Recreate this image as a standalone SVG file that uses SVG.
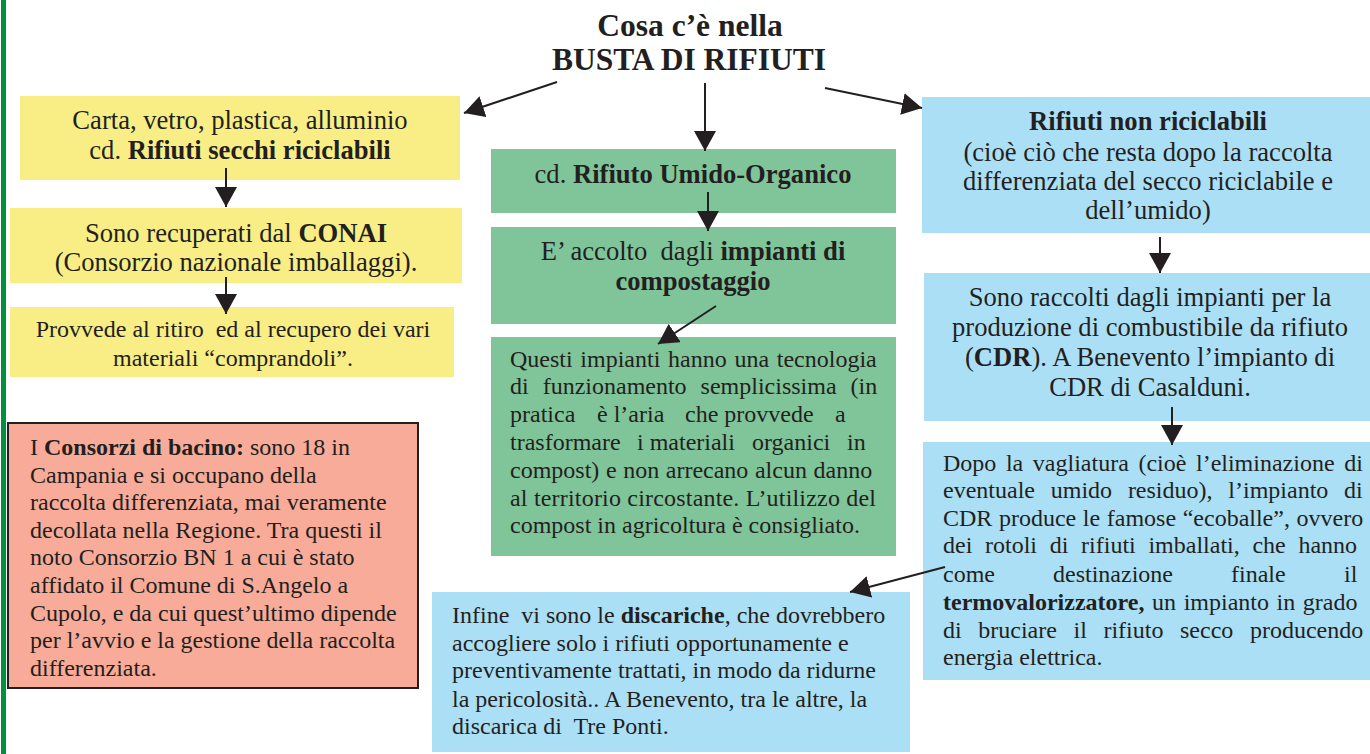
<svg xmlns="http://www.w3.org/2000/svg" width="1370" height="754" viewBox="0 0 1370 754">
<defs>
<marker id="ah" markerUnits="userSpaceOnUse" markerWidth="22" markerHeight="22" refX="20" refY="11" orient="auto" viewBox="0 0 22 22">
<path d="M0,0 L20,11 L0,22 Z" fill="#231f20"/>
</marker>
</defs>
<style>
text{font-family:"Liberation Serif","Times New Roman",serif;fill:#231f20;}
.t{font-size:31.5px;font-weight:bold;text-anchor:middle;}
.h{font-size:26.6px;text-anchor:middle;}
.p{font-size:24px;}
.pc{font-size:24px;text-anchor:middle;}
.b{font-weight:bold;}
.yel{fill:#f8ee85;}
.grn{fill:#80c49a;}
.blu{fill:#abdff6;}
.red{fill:#f8ab98;stroke:#231f20;stroke-width:2;}
.c{stroke:#231f20;stroke-width:2;fill:none;marker-end:url(#ah);}
</style>
<rect x="1" y="0" width="5" height="754" fill="#00913f"/>

<g id="title">
<text class="t" x="690" y="36">Cosa c’è nella</text>
<text class="t" x="689" y="70">BUSTA DI RIFIUTI</text>
</g>

<g id="secchi">
<rect class="yel" x="20" y="96" width="440" height="84"/>
<text class="h" x="240" y="129">Carta, vetro, plastica, alluminio</text>
<text class="h" x="240" y="159">cd. <tspan class="b">Rifiuti secchi riciclabili</tspan></text>
</g>

<g id="conai">
<rect class="yel" x="10" y="208" width="452" height="75"/>
<text class="h" x="236" y="242">Sono recuperati dal <tspan class="b">CONAI</tspan></text>
<text class="h" x="236" y="271">(Consorzio nazionale imballaggi).</text>
</g>

<g id="ritiro">
<rect class="yel" x="10" y="307" width="444" height="70"/>
<text class="pc" x="233" y="337" xml:space="preserve">Provvede al ritiro  ed al recupero dei vari</text>
<text class="pc" x="233" y="366">materiali “comprandoli”.</text>
</g>

<g id="consorzi">
<rect class="red" x="8" y="423" width="410" height="265"/>
<text class="p" x="30" y="455">I <tspan class="b">Consorzi di bacino:</tspan> sono 18 in</text>
<text class="p" x="30" y="483">Campania e si occupano della</text>
<text class="p" x="30" y="510">raccolta differenziata, mai veramente</text>
<text class="p" x="30" y="538">decollata nella Regione. Tra questi il</text>
<text class="p" x="30" y="565">noto Consorzio BN 1 a cui è stato</text>
<text class="p" x="30" y="593">affidato il Comune di S.Angelo a</text>
<text class="p" x="30" y="621">Cupolo, e da cui quest’ultimo dipende</text>
<text class="p" x="30" y="648">per l’avvio e la gestione della raccolta</text>
<text class="p" x="30" y="676">differenziata.</text>
</g>

<g id="umido">
<rect class="grn" x="491" y="149" width="405" height="64"/>
<text class="h" x="693" y="183">cd. <tspan class="b">Rifiuto Umido-Organico</tspan></text>
</g>

<g id="compostaggio">
<rect class="grn" x="491" y="227" width="405" height="97"/>
<text class="h" x="693" y="260" xml:space="preserve">E’ accolto  dagli <tspan class="b">impianti di</tspan></text>
<text class="h b" x="693" y="290">compostaggio</text>
</g>

<g id="tecnologia">
<rect class="grn" x="491" y="337" width="405" height="219"/>
<text class="p" x="510" y="367" word-spacing="1.7">Questi impianti hanno una tecnologia</text>
<text class="p" x="510" y="394" word-spacing="8">di funzionamento semplicissima (in</text>
<text class="p" y="422"><tspan x="510">pratica</tspan><tspan x="597">è l’aria</tspan><tspan x="685">che provvede</tspan><tspan x="835">a</tspan></text>
<text class="p" y="450"><tspan x="510">trasformare</tspan><tspan x="637">i materiali</tspan><tspan x="752">organici</tspan><tspan x="847">in</tspan></text>
<text class="p" x="510" y="478" word-spacing="0.6">compost) e non arrecano alcun danno</text>
<text class="p" x="510" y="506" textLength="366">al territorio circostante. L’utilizzo del</text>
<text class="p" x="510" y="533">compost in agricoltura è consigliato.</text>
</g>

<g id="nonriciclabili">
<rect class="blu" x="922" y="97" width="448" height="136"/>
<text class="h b" x="1148" y="130">Rifiuti non riciclabili</text>
<text class="h" x="1148" y="161">(cioè ciò che resta dopo la raccolta</text>
<text class="h" x="1148" y="190">differenziata del secco riciclabile e</text>
<text class="h" x="1148" y="219">dell’umido)</text>
</g>

<g id="cdr">
<rect class="blu" x="924" y="273" width="446" height="148"/>
<text class="h" x="1150" y="306">Sono raccolti dagli impianti per la</text>
<text class="h" x="1150" y="336">produzione di combustibile da rifiuto</text>
<text class="h" x="1150" y="366">(<tspan class="b">CDR</tspan>). A Benevento l’impianto di</text>
<text class="h" x="1150" y="396">CDR di Casalduni.</text>
</g>

<g id="ecoballe">
<rect class="blu" x="923" y="442" width="447" height="238"/>
<text class="p" x="943" y="471" word-spacing="3.6">Dopo la vagliatura (cioè l’eliminazione di</text>
<text class="p" x="943" y="498" word-spacing="9.8">eventuale umido residuo), l’impianto di</text>
<text class="p" x="943" y="526" word-spacing="0.6">CDR produce le famose “ecoballe”, ovvero</text>
<text class="p" x="943" y="553" word-spacing="6.7">dei rotoli di rifiuti imballati, che hanno</text>
<text class="p" y="582"><tspan x="943">come</tspan><tspan x="1053">destinazione</tspan><tspan x="1231">finale</tspan><tspan x="1344">il</tspan></text>
<text class="p" x="943" y="610" word-spacing="1.6"><tspan class="b">termovalorizzatore,</tspan> un impianto in grado</text>
<text class="p" x="943" y="638" word-spacing="10.6">di bruciare il rifiuto secco producendo</text>
<text class="p" x="943" y="665">energia elettrica.</text>
</g>

<g id="discariche">
<rect class="blu" x="432" y="592" width="478" height="160"/>
<text class="p" x="452" y="623" xml:space="preserve">Infine  vi sono le <tspan class="b">discariche</tspan>, che dovrebbero</text>
<text class="p" x="452" y="651">accogliere solo i rifiuti opportunamente e</text>
<text class="p" x="452" y="678">preventivamente trattati, in modo da ridurne</text>
<text class="p" x="452" y="707">la pericolosità.. A Benevento, tra le altre, la</text>
<text class="p" x="452" y="734" xml:space="preserve">discarica di  Tre Ponti.</text>
</g>

<g id="connectors">
<line class="c" x1="557" y1="82" x2="464" y2="113"/>
<line class="c" x1="705" y1="83" x2="705" y2="151"/>
<line class="c" x1="825" y1="88" x2="922" y2="108"/>
<line class="c" x1="226" y1="168" x2="226" y2="207"/>
<line class="c" x1="226" y1="277" x2="226" y2="314"/>
<line class="c" x1="708" y1="192" x2="708" y2="231"/>
<line class="c" x1="716" y1="306" x2="658" y2="344"/>
<line class="c" x1="1160" y1="237" x2="1160" y2="273"/>
<line class="c" x1="1172" y1="407" x2="1172" y2="445"/>
<line class="c" x1="945" y1="567" x2="850" y2="592"/>
</g>
</svg>
